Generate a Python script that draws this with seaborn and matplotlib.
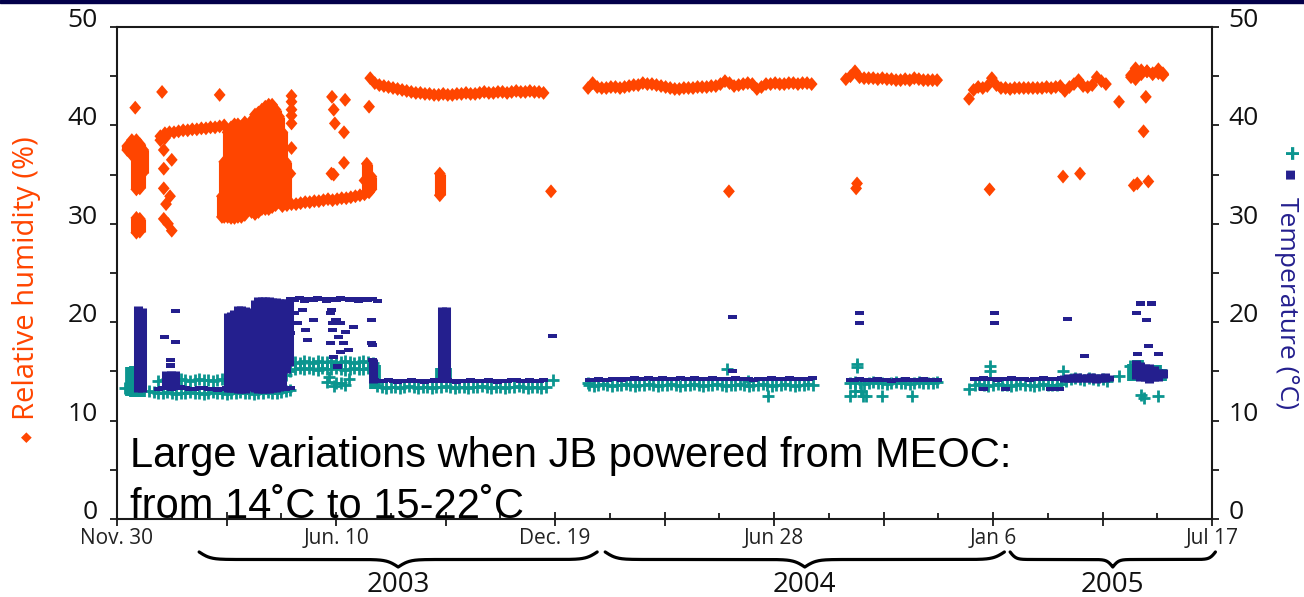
import numpy as np
import pandas as pd
import matplotlib
matplotlib.use("Agg")
import matplotlib.pyplot as plt
from matplotlib.path import Path
from matplotlib.patches import Rectangle
import matplotlib.transforms as mtransforms
import seaborn as sns

# ---------------------------------------------------------------------------
# Time axis: days counted from 30 Nov 2002 (record ends 17 Jul 2005 = day 960)
# ---------------------------------------------------------------------------
DATE_TICKS = [0, 192, 384, 576, 768, 960]
DATE_LABELS = ["Nov. 30", "Jun. 10", "Dec. 19", "Jun 28", "Jan 6", "Jul 17"]
MID_TICKS = [96, 288, 480, 672, 864]
MINOR_TICKS = [48, 144, 240, 336, 432, 528, 624, 720, 816, 912]

YEARS = ["2003", "2004", "2005"]
YEAR_FROM = [72, 428, 783]
YEAR_TO = [421, 778, 963]

# Readings in the long runs below are spaced this many days apart
STEP = 4

# ---------------------------------------------------------------------------
# Relative humidity (%)
# ---------------------------------------------------------------------------
RH_A_START = 38
RH_A = [38.9, 39.2, 39.3, 39.3, 39.4, 39.5, 39.5, 39.6, 39.6, 39.7, 39.7, 39.8,
        39.8, 39.9, 40.0]
RH_B_START = 145
RH_B = [31.8, 31.9, 32.0, 32.0, 32.1, 32.2, 32.2, 32.3, 32.3, 32.4, 32.5, 32.4,
        32.5, 32.6, 32.6, 32.7, 32.8, 32.9, 33.0, 33.2]
RH_C_START = 222
RH_C = [44.8, 44.3, 44.1, 44.0, 43.9, 43.8, 43.7, 43.6, 43.5, 43.4, 43.3, 43.3,
        43.2, 43.2, 43.1, 43.1, 43.2, 43.1, 43.1, 43.2, 43.2, 43.3, 43.2, 43.2,
        43.3, 43.4, 43.3, 43.3, 43.4, 43.4, 43.3, 43.4, 43.5, 43.4, 43.4, 43.5,
        43.4, 43.4, 43.3]
RH_D_START = 413
RH_D = [43.8, 44.3, 43.9, 43.8, 43.8, 43.9, 43.9, 43.8, 43.9, 44.0, 44.1, 44.1,
        44.3, 44.2, 44.2, 44.1, 44.0, 43.9, 43.8, 43.7, 43.7, 43.8, 43.8, 43.8,
        43.9, 43.9, 43.9, 44.0, 44.0, 44.2, 44.5, 44.3, 44.0, 44.1, 44.2, 44.3,
        44.2, 43.7, 43.9, 44.2, 44.2, 44.3, 44.2, 44.2, 44.3, 44.3, 44.2, 44.3,
        44.3, 44.2]
RH_E_START = 639
RH_E = [44.7, 45.0, 45.5, 44.9, 44.8, 44.8, 44.8, 44.7, 44.8, 44.7, 44.7, 44.6,
        44.6, 44.7, 44.6, 44.8, 44.7, 44.6, 44.6, 44.6, 44.6]
RH_F_START = 747
RH_F = [42.7, 43.6, 43.9, 43.8, 44.0, 44.8, 44.1, 43.8, 43.8, 43.7, 43.8, 43.8,
        43.8, 43.8, 43.8, 43.8, 43.8, 43.9, 43.8, 43.9, 44.0, 43.5, 43.9, 44.2,
        44.6, 44.0, 43.9, 44.1, 44.9, 44.5, 44.2]

RH_SPOT_DAY = [16, 39.5, 41, 48, 41, 41, 46.5, 43, 41, 44.7, 48, 38, 42, 90,
               153, 153, 153, 153, 153, 153, 188.5, 200, 190, 191, 199, 199, 190,
               152, 148, 188, 217, 221, 380.5, 536.5, 648.8, 648, 765, 829.4,
               844.3, 878.5, 902, 900, 891.4, 894.5, 904.2]
RH_SPOT_VAL = [41.8, 43.4, 37.5, 36.5, 35.6, 33.6, 32.8, 32.0, 30.5, 30.0, 29.3,
               38.5, 38.7, 43.1, 43.0, 42.4, 41.6, 41.0, 40.2, 37.7, 42.9, 42.6,
               41.6, 40.2, 39.3, 36.2, 35.0, 35.1, 34.1, 35.1, 34.4, 41.9, 33.3,
               33.3, 34.1, 33.6, 33.5, 34.8, 35.1, 42.4, 42.9, 39.4, 33.9, 34.1,
               34.3]

# Days with many readings: lowest and highest value logged that day
RH_SPAN_DAY = [9, 13, 17, 20, 23, 17, 20, 92, 94, 97, 100, 103, 106, 109, 112,
               118, 118, 121, 124, 127, 130, 133, 136, 139, 142, 145, 148, 219,
               223, 283, 889, 893, 898, 903, 908, 913, 917]
RH_SPAN_LO = [36.8, 36.3, 32.8, 32.9, 34.5, 28.4, 28.5, 30.0, 30.0, 30.0, 29.9,
              29.9, 30.0, 30.0, 30.2, 30.5, 38.5, 30.3, 30.5, 30.8, 30.8, 30.8,
              31.0, 31.2, 31.5, 31.5, 31.5, 32.6, 32.8, 32.2, 44.2, 44.0, 44.5,
              44.8, 44.5, 45.0, 44.6]
RH_SPAN_HI = [38.6, 39.2, 39.2, 38.8, 38.2, 31.3, 31.2, 33.5, 37.0, 40.0, 40.5,
              40.8, 40.8, 40.6, 41.0, 34.5, 41.2, 41.8, 42.0, 42.3, 42.6, 42.8,
              42.8, 42.3, 41.6, 40.0, 37.0, 36.8, 35.5, 35.8, 45.8, 46.5, 46.3,
              46.2, 46.0, 46.0, 45.8]

# ---------------------------------------------------------------------------
# Temperature (deg C), sensor drawn with small dashes
# ---------------------------------------------------------------------------
TD_A_START = 36
TD_A = [13.2, 13.3, 13.3, 13.2, 13.3, 13.4, 13.3, 13.2, 13.2, 13.3, 13.3, 13.2,
        13.2, 13.1, 13.2, 13.3, 13.3, 13.2, 13.2, 13.1, 13.2, 13.2, 13.3, 13.3,
        13.2, 13.2, 13.1, 13.2, 13.2, 13.3]
TD_TOP_START = 152
TD_TOP = [22.4, 22.3, 22.5, 22.2, 22.4, 22.3, 22.5, 22.4, 22.2, 22.4, 22.3, 22.5,
          22.4, 22.3, 22.4, 22.2, 22.4, 22.3, 22.4, 22.2]
TD_B_START = 226
TD_B = [14.1, 14.0, 14.0, 14.1, 14.0, 13.9, 14.0, 14.0, 14.1, 14.0, 14.0, 13.9,
        14.0, 14.1, 14.0, 14.0, 14.1, 14.0, 13.9, 14.0, 14.0, 14.1, 14.0, 14.0,
        14.0, 14.1, 14.0, 13.9, 14.0, 14.0, 14.1, 14.1, 14.0, 14.0, 14.1, 14.0,
        14.0, 14.1]
TD_C_START = 414
TD_C = [14.1, 14.1, 14.2, 14.1, 14.1, 14.2, 14.2, 14.1, 14.2, 14.2, 14.3, 14.2,
        14.2, 14.3, 14.2, 14.2, 14.3, 14.2, 14.2, 14.2, 14.3, 14.2, 14.2, 14.3,
        14.2, 14.2, 14.2, 14.3, 14.2, 14.2, 14.2, 14.2, 14.3, 14.2, 14.2, 14.2,
        14.1, 14.2, 14.2, 14.2, 14.3, 14.2, 14.2, 14.2, 14.3, 14.2, 14.2, 14.2,
        14.2, 14.3]
TD_D_START = 643
TD_D = [14.1, 14.1, 14.2, 14.1, 14.1, 14.1, 14.2, 14.1, 14.1, 14.0, 14.1, 14.1,
        14.2, 14.1, 14.1, 14.1, 14.2, 14.1, 14.1, 14.1]
TD_E_START = 752
TD_E = [14.2, 14.2, 14.3, 14.2, 14.2, 14.1, 14.2, 14.2, 14.3, 14.2, 14.2, 14.2,
        14.1, 14.2, 14.2, 14.3, 14.2, 14.2, 14.2, 14.3]

TD_SPOT_DAY = [51, 42, 51, 47, 47, 156, 158, 152, 163, 172, 165, 167, 187, 189,
               196, 200, 187, 196, 193, 192, 189, 194, 199, 203, 190, 207, 223,
               223, 224, 224, 188, 382, 540, 540, 651, 651, 769, 769, 833, 848,
               760, 779, 818, 822, 826, 897, 907, 894, 903, 904, 895, 913]
TD_SPOT_VAL = [21.1, 18.5, 18.0, 16.2, 15.6, 20.9, 19.9, 18.9, 21.2, 20.2, 19.2,
               18.2, 20.9, 19.9, 19.9, 19.0, 17.9, 17.0, 15.5, 20.2, 19.2, 18.5,
               17.9, 17.2, 16.5, 19.5, 20.2, 17.9, 17.7, 16.2, 21.2, 18.6, 20.5,
               15.0, 20.9, 19.9, 20.9, 19.9, 20.3, 16.6, 13.2, 13.2, 13.2, 13.2,
               13.2, 21.9, 21.9, 20.9, 20.2, 17.6, 16.8, 16.8]

TD_SPAN_DAY = [18, 22, 43, 47, 51, 97, 100, 103, 106, 109, 112, 115, 121, 124,
               127, 130, 133, 136, 139, 142, 145, 148, 151, 224, 285, 288, 893,
               897, 901, 905, 909, 913, 917, 830, 834, 838, 842, 846, 850, 854,
               858, 862, 866, 870]
TD_SPAN_LO = [12.9, 12.9, 13.2, 13.2, 13.2, 12.9, 12.9, 12.9, 12.8, 12.8, 12.8,
              13.0, 12.9, 12.8, 12.8, 12.8, 12.8, 12.9, 12.9, 13.0, 13.2, 14.8,
              15.5, 13.8, 14.0, 14.0, 14.2, 14.0, 14.0, 13.8, 14.0, 14.0, 14.3,
              13.9, 13.9, 13.9, 13.9, 13.9, 13.9, 13.9, 13.8, 13.9, 13.9, 14.0]
TD_SPAN_HI = [21.6, 21.4, 15.0, 15.0, 15.0, 20.9, 21.0, 21.2, 21.6, 21.6, 21.5,
              21.4, 22.3, 22.6, 22.6, 22.6, 22.6, 22.5, 22.5, 22.4, 22.4, 22.4,
              22.2, 16.3, 21.5, 21.5, 16.2, 16.0, 15.8, 15.8, 15.5, 15.2, 15.2,
              14.6, 14.7, 14.7, 14.8, 14.7, 14.7, 14.8, 14.7, 14.7, 14.8, 14.6]

# ---------------------------------------------------------------------------
# Temperature (deg C), sensor drawn with crosses
# ---------------------------------------------------------------------------
TC_A_START = 36
TC_A = [14.0, 14.1, 14.2, 14.1, 14.1, 14.2, 14.1, 14.0, 14.1, 14.2, 14.1, 14.1,
        14.0, 14.1, 14.2, 14.1]
TC_A2_START = 28
TC_A2 = [13.0, 12.9, 12.8, 12.8, 12.9, 12.8, 12.7, 12.8, 12.8, 12.9, 12.8, 12.8,
         12.7, 12.8, 12.9, 12.8, 12.8, 12.7, 12.8, 12.8, 12.9, 12.8, 12.8, 12.7,
         12.8, 12.8, 12.9, 12.8, 12.8, 12.9, 13.0, 13.1]
TC_B_START = 148
TC_B = [15.6, 15.8, 16.0, 15.9, 16.1, 16.0, 15.9, 16.1, 16.0, 16.0, 16.1, 15.9,
        16.0, 16.1, 16.0, 15.9, 16.0, 16.1, 16.0, 15.9]
TC_B2 = [14.6, 15.0, 15.2, 15.3, 15.2, 15.3, 15.2, 15.1, 15.3, 15.2, 15.2, 15.3,
         15.2, 15.1, 15.2, 15.3, 15.2, 15.2, 15.3, 15.2]
TC_C_START = 228
TC_C = [13.5, 13.4, 13.3, 13.4, 13.4, 13.3, 13.4, 13.5, 13.4, 13.3, 13.4, 13.4,
        13.3, 13.4, 13.4, 13.5, 13.4, 13.3, 13.4, 13.4, 13.3, 13.4, 13.4, 13.5,
        13.4, 13.3, 13.4, 13.4, 13.3, 13.4, 13.4, 13.5, 13.4, 13.3, 13.4, 13.4,
        13.3, 13.4]
TC_D_START = 414
TC_D = [13.6, 13.5, 13.6, 13.7, 13.6, 13.5, 13.6, 13.6, 13.7, 13.6, 13.5, 13.6,
        13.6, 13.7, 13.6, 13.5, 13.6, 13.6, 13.7, 13.6, 13.5, 13.6, 13.6, 13.7,
        13.6, 13.5, 13.6, 13.6, 13.7, 13.6, 13.5, 13.6, 13.6, 13.7, 13.6, 13.5,
        13.6, 13.6, 13.7, 13.6, 13.5, 13.6, 13.6, 13.7, 13.6, 13.5, 13.6, 13.6,
        13.7, 13.6]
TC_E_START = 643
TC_E = [13.8, 13.9, 13.8, 13.7, 13.8, 13.9, 13.8, 13.8, 13.7, 13.8, 13.9, 13.8,
        13.8, 13.7, 13.8, 13.9, 13.8, 13.8, 13.8, 13.9]
TC_F_START = 752
TC_F = [13.6, 13.7, 13.6, 13.5, 13.6, 13.7, 13.6, 13.6, 13.5, 13.6, 13.7, 13.6,
        13.6, 13.5, 13.6, 13.7, 13.6, 13.6, 13.6, 13.7, 14.0, 14.2, 14.3, 14.2,
        14.1, 14.3, 14.2, 14.1, 14.2, 14.0]

TC_SPOT_DAY = [7, 184, 190, 196, 186, 192, 200, 203, 382, 413, 535, 553, 571,
               649, 649, 643, 654, 657, 671, 697, 647, 652, 747, 765, 765, 829,
               878.5, 898, 900, 913, 888]
TC_SPOT_VAL = [13.3, 13.9, 13.5, 13.8, 14.4, 13.8, 13.6, 14.2, 14.1, 13.8, 15.2,
               14.0, 12.5, 15.4, 15.8, 12.5, 12.5, 12.5, 12.5, 12.5, 13.0, 13.0,
               13.2, 15.0, 15.5, 15.0, 14.5, 12.6, 12.3, 12.5, 15.5]

TC_SPAN_DAY = [12, 16, 20, 226, 284, 288, 891, 895, 899, 903, 907, 911, 915]
TC_SPAN_LO = [12.5, 12.4, 12.4, 13.2, 14.0, 14.0, 14.0, 14.0, 14.0, 14.2, 14.0,
              14.2, 14.0]
TC_SPAN_HI = [15.4, 15.5, 15.0, 15.6, 15.3, 15.3, 15.8, 16.2, 15.5, 15.2, 15.0,
              15.6, 15.2]

# ---------------------------------------------------------------------------
# Styling
# ---------------------------------------------------------------------------
ORANGE = "#ff4500"
NAVY = "#241f8e"
TEAL = "#0b958f"
INK = "#1a1a1a"

sns.set_theme(style="white")
plt.rcParams["font.family"] = ["Open Sans", "DejaVu Sans"]


def run(start, values):
    days = start + STEP * np.arange(len(values))
    return pd.DataFrame({"day": days, "value": np.asarray(values, float)})


def spots(days, values):
    return pd.DataFrame({"day": np.asarray(days, float),
                         "value": np.asarray(values, float)})


rh_points = pd.concat([run(RH_A_START, RH_A), run(RH_B_START, RH_B),
                       run(RH_C_START, RH_C), run(RH_D_START, RH_D),
                       run(RH_E_START, RH_E), run(RH_F_START, RH_F),
                       spots(RH_SPOT_DAY, RH_SPOT_VAL)], ignore_index=True)
td_points = pd.concat([run(TD_A_START, TD_A), run(TD_TOP_START, TD_TOP),
                       run(TD_B_START, TD_B), run(TD_C_START, TD_C),
                       run(TD_D_START, TD_D), run(TD_E_START, TD_E),
                       spots(TD_SPOT_DAY, TD_SPOT_VAL)], ignore_index=True)
tc_points = pd.concat([run(TC_A_START, TC_A), run(TC_A2_START, TC_A2),
                       run(TC_B_START, TC_B), run(TC_B_START, TC_B2),
                       run(TC_C_START, TC_C), run(TC_D_START, TC_D),
                       run(TC_E_START, TC_E), run(TC_F_START, TC_F),
                       spots(TC_SPOT_DAY, TC_SPOT_VAL)], ignore_index=True)

# Marker shapes: tall diamond for humidity, flat dash for the first sensor
diamond = Path([(0, 1), (0.85, 0), (0, -1), (-0.85, 0), (0, 1)], closed=True)
dash = Path([(-1, -0.45), (1, -0.45), (1, 0.45), (-1, 0.45), (-1, -0.45)],
            closed=True)
DIAMOND_S = 100          # points^2
HALF_DIAMOND = 0.7       # half the diamond height in axis units

fig = plt.figure(figsize=(13.04, 5.97), dpi=100)
fig.patches.append(Rectangle((0, 1 - 3 / 597), 1, 3 / 597,
                             transform=fig.transFigure, color="#03004a",
                             zorder=10))
ax = fig.add_axes([117 / 1304, 1 - 519 / 597, 1095 / 1304, 492 / 597])

# --- humidity ---
span = pd.DataFrame({"day": RH_SPAN_DAY, "lo": RH_SPAN_LO, "hi": RH_SPAN_HI})
ax.vlines(span["day"], span["lo"] + HALF_DIAMOND, span["hi"] - HALF_DIAMOND,
          colors=ORANGE, linewidth=8.0, zorder=2)
rh_caps = pd.concat([pd.DataFrame({"day": span["day"], "value": span["lo"] + HALF_DIAMOND}),
                     pd.DataFrame({"day": span["day"], "value": span["hi"] - HALF_DIAMOND})])
for frame in (rh_points, rh_caps):
    sns.scatterplot(data=frame, x="day", y="value", ax=ax, marker=diamond,
                    s=DIAMOND_S, color=ORANGE, linewidth=0, edgecolor="none",
                    zorder=2, legend=False)

# --- temperature, cross sensor ---
ax.vlines(TC_SPAN_DAY, TC_SPAN_LO, TC_SPAN_HI, colors=TEAL, linewidth=8.5,
          zorder=3)
sns.scatterplot(data=tc_points, x="day", y="value", ax=ax, marker="+", s=80,
                color=TEAL, linewidth=2.0, zorder=3, legend=False)

# --- temperature, dash sensor ---
ax.vlines(TD_SPAN_DAY, TD_SPAN_LO, TD_SPAN_HI, colors=NAVY, linewidth=6.5,
          zorder=4)
sns.scatterplot(data=td_points, x="day", y="value", ax=ax, marker=dash, s=42,
                color=NAVY, linewidth=0, edgecolor="none", zorder=4,
                legend=False)

# --- axes ---
ax.set_xlim(0, 960)
ax.set_ylim(0, 50)
ax.set_xlabel("")
ax.set_ylabel("")
for side in ("left", "right", "top", "bottom"):
    ax.spines[side].set_visible(True)
    ax.spines[side].set_color(INK)
    ax.spines[side].set_linewidth(1.5)

major_x = sorted(DATE_TICKS + MID_TICKS)
ax.set_xticks(major_x)
ax.set_xticklabels([DATE_LABELS[DATE_TICKS.index(d)] if d in DATE_TICKS else ""
                    for d in major_x])
ax.set_xticks(MINOR_TICKS, minor=True)
ax.tick_params(axis="x", which="major", direction="inout", length=9.5,
               width=1.3, color=INK, labelsize=15, pad=2, labelcolor="#222222",
               bottom=True)
ax.tick_params(axis="x", which="minor", direction="in", length=4, width=1.3,
               color=INK, bottom=True)

ax.set_yticks(range(0, 51, 10))
ax.set_yticks(range(5, 50, 10), minor=True)
ax.tick_params(axis="y", which="both", direction="out", length=5, width=1.3,
               color=INK, left=True)
ax.tick_params(axis="y", which="major", labelsize=19, pad=9,
               labelcolor="#111111")
plt.setp(ax.get_yticklabels(), va="baseline")

twin = ax.twinx()
twin.set_ylim(0, 50)
twin.set_yticks(range(0, 51, 10))
twin.set_yticks(range(5, 50, 10), minor=True)
twin.tick_params(axis="y", which="both", direction="out", length=5, width=1.3,
                 color=INK, right=True)
twin.tick_params(axis="y", which="major", labelsize=19, pad=7,
                 labelcolor="#111111")
plt.setp(twin.get_yticklabels(), va="baseline")
for side in ("left", "right", "top", "bottom"):
    twin.spines[side].set_visible(False)
twin.grid(False)
ax.grid(False)

# --- year braces under the date axis ---
blend = mtransforms.blended_transform_factory(ax.transData, ax.transAxes)


def brace(x0, x1, y_end, y_tip, k=70, n=201):
    t = np.linspace(0.0, 0.5, n)
    half = 1 / (1 + np.exp(-k * t)) + 1 / (1 + np.exp(-k * (t - 0.5)))
    shape = np.concatenate([half, half[-2::-1]]) - 0.5
    xs = np.linspace(x0, x1, shape.size)
    return xs, y_end + (y_tip - y_end) * shape


for year, x0, x1 in zip(YEARS, YEAR_FROM, YEAR_TO):
    bx, by = brace(x0, x1, -0.067, -0.0976)
    ax.plot(bx, by, transform=blend, color="black", linewidth=2.3,
            clip_on=False, solid_capstyle="round")
    ax.text((x0 + x1) / 2, -0.106, year, transform=blend, ha="center",
            va="top", fontsize=20, color="#111111", clip_on=False)

# --- axis titles ---
fig.text(34 / 1304, 1 - 420 / 597, "Relative humidity (%)", rotation=90,
         rotation_mode="anchor", ha="left", va="baseline", fontsize=21,
         color=ORANGE)
fig.text(26 / 1304, 1 - 437 / 597, "\u25c6", rotation=90, ha="center",
         va="center", fontsize=10, color=ORANGE, family="DejaVu Sans")
fig.text(1280 / 1304, 1 - 197 / 597, "Temperature (\u00b0C)", rotation=-90,
         rotation_mode="anchor", ha="left", va="baseline", fontsize=19,
         color=NAVY)
fig.text(1288 / 1304, 1 - 153 / 597, "+", rotation=-90, ha="center",
         va="center", fontsize=19, color=TEAL, weight="bold")
fig.text(1289 / 1304, 1 - 175 / 597, "\u25aa", rotation=-90, ha="center",
         va="center", fontsize=13, color=NAVY, family="DejaVu Sans")

# --- note ---
fig.text(130 / 1304, 1 - 467 / 597,
         "Large variations when JB powered from MEOC:", fontsize=30,
         family=["Liberation Sans", "DejaVu Sans"], ha="left", va="baseline",
         color="black")
fig.text(130 / 1304, 1 - 518 / 597, "from 14\u02daC to 15-22\u02daC",
         fontsize=30, family=["Liberation Sans", "DejaVu Sans"], ha="left",
         va="baseline", color="black")

fig.savefig("out.png", dpi=100, facecolor="white")
